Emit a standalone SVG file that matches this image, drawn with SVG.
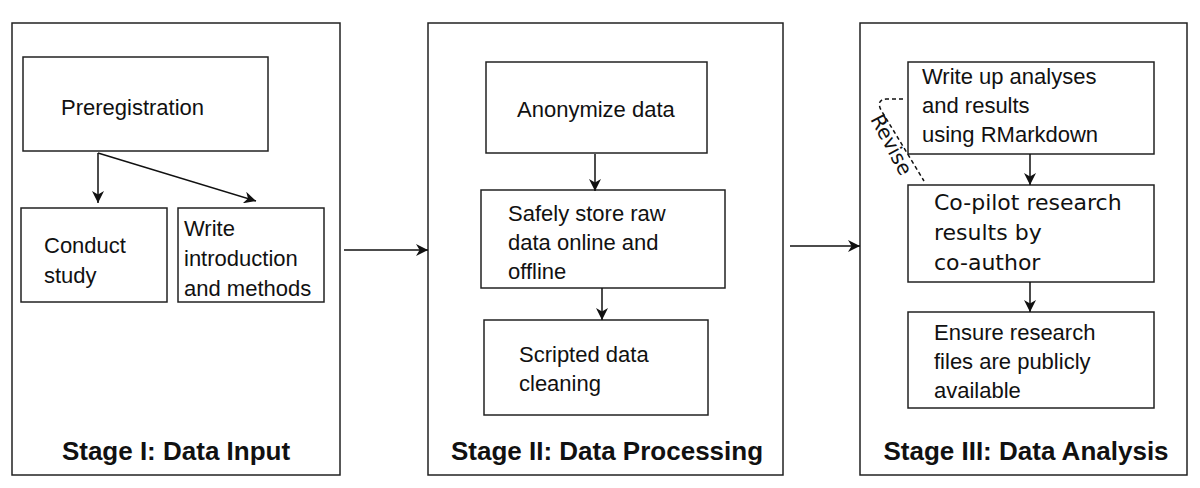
<svg xmlns="http://www.w3.org/2000/svg" width="1200" height="488" viewBox="0 0 1200 488">
<style>
rect{fill:#fff;stroke:#222;stroke-width:1.5}
text{font-family:"Liberation Sans",Arial,sans-serif;font-size:22px;fill:#111}
.t{font-weight:bold;font-size:26px}
.d{font-family:"DejaVu Sans",sans-serif;font-size:22px}
.c path{fill:none;stroke:#111;stroke-width:1.5}
</style>
<defs><marker id="a" viewBox="0 0 10 10" refX="10" refY="5" markerWidth="12" markerHeight="12" orient="auto" markerUnits="userSpaceOnUse"><path d="M0,0L10,5L0,10L3,5z" fill="#111"/></marker></defs>
<rect x="0" y="0" width="1200" height="488" style="stroke:none"/>
<g id="stage1"><rect x="12" y="23" width="328" height="452"/><text class="t" x="176" y="460" text-anchor="middle">Stage I: Data Input</text></g>
<g id="stage2"><rect x="428" y="23" width="355" height="452"/><text class="t" x="607" y="460" text-anchor="middle">Stage II: Data Processing</text></g>
<g id="stage3"><rect x="860" y="23" width="327" height="452"/><text class="t" x="1026" y="460" text-anchor="middle">Stage III: Data Analysis</text></g>
<g id="prereg"><rect x="23" y="57" width="245" height="94"/><text x="61" y="115">Preregistration</text></g>
<g id="conduct"><rect x="21" y="208" width="146" height="94"/><text x="44" y="253">Conduct</text><text x="44" y="283">study</text></g>
<g id="write"><rect x="178" y="208" width="146" height="94"/><text x="184" y="236">Write</text><text x="184" y="266">introduction</text><text x="184" y="296">and methods</text></g>
<g id="anon"><rect x="486" y="62" width="221" height="91"/><text x="517" y="117">Anonymize data</text></g>
<g id="store"><rect x="481" y="190" width="244" height="98"/><text x="508" y="221">Safely store raw</text><text x="508" y="250">data online and</text><text x="508" y="279">offline</text></g>
<g id="clean"><rect x="484" y="320" width="224" height="95"/><text x="519" y="362">Scripted data</text><text x="519" y="391">cleaning</text></g>
<g id="writeup"><rect x="908" y="62" width="246" height="92"/><text x="922" y="84">Write up analyses</text><text x="922" y="113">and results</text><text x="922" y="142">using RMarkdown</text></g>
<g id="copilot"><rect x="908" y="185" width="246" height="97"/><text class="d" x="934" y="210">Co-pilot research</text><text class="d" x="934" y="240">results by</text><text class="d" x="934" y="270">co-author</text></g>
<g id="ensure"><rect x="908" y="312" width="246" height="96"/><text x="934" y="340">Ensure research</text><text x="934" y="369">files are publicly</text><text x="934" y="398">available</text></g>
<g class="c" id="connectors">
<path d="M98,153V203" marker-end="url(#a)"/>
<path d="M98,153L256,201" marker-end="url(#a)"/>
<path d="M344,250H428" marker-end="url(#a)"/>
<path d="M595,154V191" marker-end="url(#a)"/>
<path d="M602,288V320" marker-end="url(#a)"/>
<path d="M790,246H860" marker-end="url(#a)"/>
<path d="M1030,154V185" marker-end="url(#a)"/>
<path d="M1030,282V312" marker-end="url(#a)"/>
<path d="M903,99H886Q876,100 881,110L924,181" stroke-dasharray="4,3"/>
</g>
<text class="d" x="870" y="119" transform="rotate(62 870 119)" style="font-size:20px">Revise</text>
</svg>
